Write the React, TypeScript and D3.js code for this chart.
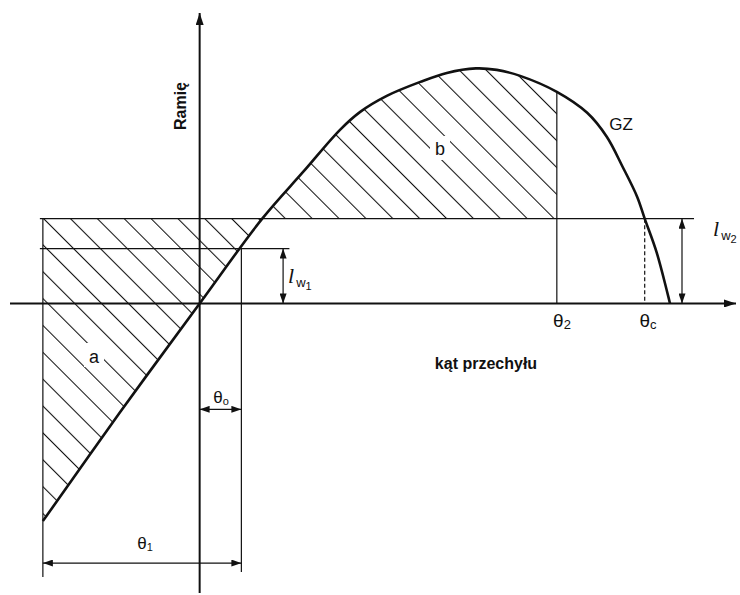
import React from "react";
import * as d3 from "d3";

// GZ curve: heel angle (deg) and righting arm
const gzAngles = [-24.8, -12.6, 0, 9.9, 16.4, 22.2, 25.4, 29.6, 34.9, 39.1, 43.7, 47.0, 50.7, 56.5, 61.3, 64.4, 66.9, 69.2, 70.4, 72.3, 74.4];
const gzArms = [-2.18, -1.09, 0, 0.85, 1.32, 1.74, 1.92, 2.08, 2.22, 2.31, 2.355, 2.34, 2.28, 2.12, 1.91, 1.67, 1.37, 1.07, 0.85, 0.51, 0];

// characteristic angles and heeling arms
const angleNames = ["theta1", "theta0", "theta2", "thetaC"];
const angleValues = [-24.8, 6.6, 56.5, 70.4];
const armNames = ["lw1", "lw2"];
const armValues = [0.55, 0.85];

const W = 740;
const H = 595;
const INK = "#111";
const SANS = "'Liberation Sans', Arial, sans-serif";
const SERIF = "'Liberation Serif', 'Times New Roman', serif";

const ang = (n: string) => angleValues[angleNames.indexOf(n)];
const arm = (n: string) => armValues[armNames.indexOf(n)];

export default function App() {
  const x = d3.scaleLinear().domain([-30, 85]).range([10, 737]);
  const y = d3.scaleLinear().domain([-2.9, 2.92]).range([593, 12]);
  const curve = d3.curveCatmullRom.alpha(0.5);

  const pts: [number, number][] = gzAngles.map((a, i) => [a, gzArms[i]]);
  const line = d3
    .line<[number, number]>()
    .x((d) => x(d[0]))
    .y((d) => y(d[1]))
    .curve(curve);

  const lw1 = arm("lw1");
  const lw2 = arm("lw2");
  const t1 = ang("theta1");
  const t0 = ang("theta0");
  const t2 = ang("theta2");
  const tc = ang("thetaC");

  // region between the GZ curve and the lw2 line, clipped to [theta1, theta2] below
  const hatchArea = d3
    .area<[number, number]>()
    .x((d) => x(d[0]))
    .y0(y(lw2))
    .y1((d) => y(d[1]))
    .curve(curve);

  const x0 = x(0);
  const yZero = y(0);
  const gzAt = (a: number) => gzArms[gzAngles.indexOf(a)];

  return (
    <svg width={W} height={H} style={{ position: "absolute", left: 0, top: 0, background: "#fff" }}>
      <defs>
        <pattern
          id="hatch"
          patternUnits="userSpaceOnUse"
          width={19}
          height={19}
          patternTransform={`translate(${x(t1)},${y(lw2)}) rotate(-45)`}
        >
          <line x1={0.5} y1={0} x2={0.5} y2={19} stroke={INK} strokeWidth={1.1} />
        </pattern>
        <clipPath id="hatchClip">
          <path d={hatchArea(pts) || ""} />
        </clipPath>
        <marker id="arr" viewBox="0 0 10 7" refX={10} refY={3.5} markerWidth={10} markerHeight={7}
          markerUnits="userSpaceOnUse" orient="auto-start-reverse">
          <path d="M0,0 L10,3.5 L0,7 Z" fill={INK} />
        </marker>
        <marker id="axarr" viewBox="0 0 12 8" refX={12} refY={4} markerWidth={12} markerHeight={8}
          markerUnits="userSpaceOnUse" orient="auto">
          <path d="M0,0 L12,4 L0,8 Z" fill={INK} />
        </marker>
      </defs>

      {/* hatched areas a and b */}
      <rect
        x={x(t1)}
        y={0}
        width={x(t2) - x(t1)}
        height={H}
        fill="url(#hatch)"
        clipPath="url(#hatchClip)"
      />

      {/* gaps in hatching around labels */}
      <rect x={84} y={343} width={20} height={24} fill="#fff" />
      <rect x={430} y={136} width={20} height={24} fill="#fff" />
      <text x={94} y={363} textAnchor="middle" fontFamily={SANS} fontSize={18} fill={INK}>a</text>
      <text x={440} y={155} textAnchor="middle" fontFamily={SANS} fontSize={18} fill={INK}>b</text>

      {/* heeling arm lines and angle verticals */}
      <g stroke={INK} strokeWidth={1.2} fill="none">
        <line x1={x(t1) - 3} x2={x(78.2)} y1={y(lw2)} y2={y(lw2)} />
        <line x1={x(t1) - 3} x2={x(14.2)} y1={y(lw1)} y2={y(lw1)} />
        <line x1={x(t1)} x2={x(t1)} y1={y(lw2)} y2={y(-2.74)} />
        <line x1={x(t0)} x2={x(t0)} y1={y(lw1)} y2={y(-2.69)} />
        <line x1={x(t2)} x2={x(t2)} y1={y(gzAt(t2))} y2={yZero} />
        <line x1={x(tc)} x2={x(tc)} y1={y(lw2)} y2={yZero} strokeDasharray="4,2.5" />
      </g>

      {/* dimension arrows */}
      <g stroke={INK} strokeWidth={1.2} fill="none">
        <line x1={x(13.2)} x2={x(13.2)} y1={y(lw1)} y2={yZero} markerStart="url(#arr)" markerEnd="url(#arr)" />
        <line x1={x(76.3)} x2={x(76.3)} y1={y(lw2)} y2={yZero} markerStart="url(#arr)" markerEnd="url(#arr)" />
        <line x1={x0} x2={x(t0)} y1={y(-1.06)} y2={y(-1.06)} markerStart="url(#arr)" markerEnd="url(#arr)" />
        <line x1={x(t1)} x2={x(t0)} y1={y(-2.6)} y2={y(-2.6)} markerStart="url(#arr)" markerEnd="url(#arr)" />
      </g>

      {/* axes */}
      <g stroke={INK} strokeWidth={2} fill="none">
        <line x1={10} x2={736} y1={yZero} y2={yZero} markerEnd="url(#axarr)" />
        <line x1={x0} x2={x0} y1={593} y2={13} markerEnd="url(#axarr)" />
      </g>

      {/* GZ curve */}
      <path d={line(pts) || ""} fill="none" stroke={INK} strokeWidth={2.6} strokeLinejoin="round" />

      {/* labels */}
      <text x={621} y={130} textAnchor="middle" fontFamily={SANS} fontSize={17} fill={INK}>GZ</text>
      <text
        transform="translate(186,106) rotate(-90)"
        textAnchor="middle"
        fontFamily={SANS}
        fontWeight="bold"
        fontSize={16}
        fill={INK}
      >
        Ramię
      </text>
      <text x={486} y={369} textAnchor="middle" fontFamily={SANS} fontWeight="bold" fontSize={16} fill={INK}>
        kąt przechyłu
      </text>

      <g fontFamily={SANS} fill={INK}>
        <text x={562} y={327} textAnchor="middle" fontSize={19}>
          θ<tspan fontSize={13} dy={2}>2</tspan>
        </text>
        <text x={648} y={327} textAnchor="middle" fontSize={19}>
          θ<tspan fontSize={13} dy={2}>c</tspan>
        </text>
        <text x={221} y={403} textAnchor="middle" fontSize={17}>
          θ<tspan fontSize={11} dy={2}>o</tspan>
        </text>
        <text x={145} y={549} textAnchor="middle" fontSize={17}>
          θ<tspan fontSize={11} dy={2}>1</tspan>
        </text>
      </g>

      <text x={288} y={283} fill={INK}>
        <tspan fontFamily={SERIF} fontStyle="italic" fontSize={22}>l</tspan>
        <tspan fontFamily={SANS} fontSize={13} dx={2} dy={4}>w</tspan>
        <tspan fontFamily={SANS} fontSize={11} dy={3}>1</tspan>
      </text>
      <text x={713} y={236} fill={INK}>
        <tspan fontFamily={SERIF} fontStyle="italic" fontSize={22}>l</tspan>
        <tspan fontFamily={SANS} fontSize={13} dx={2} dy={4}>w</tspan>
        <tspan fontFamily={SANS} fontSize={11} dy={3}>2</tspan>
      </text>
    </svg>
  );
}
